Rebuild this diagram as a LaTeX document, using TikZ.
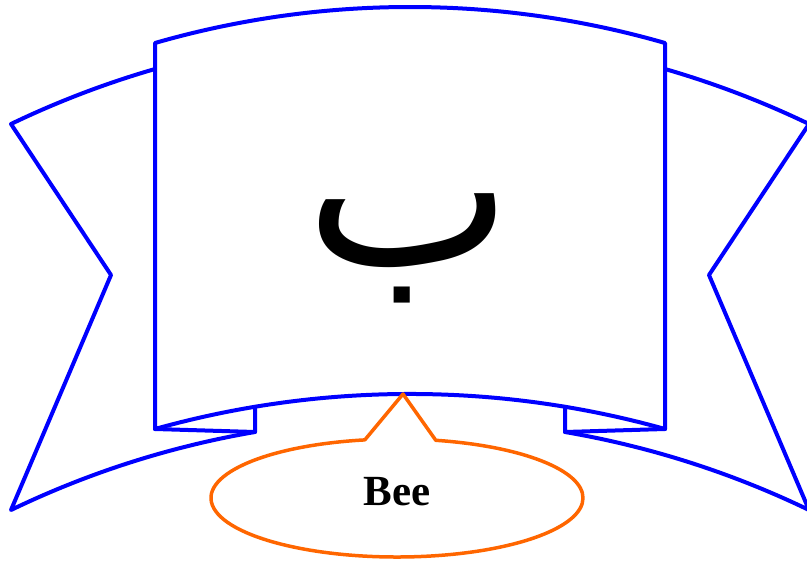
\documentclass[tikz,border=0pt]{standalone}
\usepackage{fontspec}
\usetikzlibrary{shapes.callouts}
\TeXXeTstate=1
\newfontfamily\arabicfont[Script=Arabic]{DejaVu Sans}
\newfontfamily\beefont{Liberation Serif}
\definecolor{ribbonblue}{RGB}{0,0,255}
\definecolor{calloutorange}{RGB}{255,102,0}
\tikzset{
  ribbon/.style={draw=ribbonblue, line width=4.0pt},
  beecallout/.style={ellipse callout, draw=calloutorange, line width=3.5pt, inner sep=0pt,
    minimum width=372pt, minimum height=118pt, callout pointer arc=22},
}

\begin{document}
\begin{tikzpicture}[x=1pt, y=-1pt, line cap=round, line join=round]

  %% ════ left and right tails (behind the panel) ════
  \draw[ribbon] (155,69) .. controls (105.6,83.3) and (57.3,101.7) .. (11,124)
    -- (111,275) -- (11,510) .. controls (88.3,472.7) and (170.4,446.5) .. (255,432);
  \draw[ribbon] (665,69) .. controls (714.4,83.3) and (762.7,101.7) .. (809,124)
    -- (709,275) -- (809,510) .. controls (731.7,472.7) and (649.6,446.5) .. (565,432);

  %% ════ folds ════
  \draw[ribbon] (155,429) -- (255,432) -- (255,406.8);
  \draw[ribbon] (665,429) -- (565,432) -- (565,406.8);

  %% ════ middle panel ════
  \draw[ribbon] (155,429) -- (155,43) .. controls (321.6,-5.0) and (498.4,-5.0) .. (665,43)
    -- (665,429) .. controls (498.2,382.3) and (321.8,382.3) .. (155,429);

  %% ════ letter ════
  \node[font=\arabicfont\fontsize{220}{264}\selectfont] (beh) at (409,248) {\beginR ب\endR};

  %% ════ callout ════
  \coordinate (tip) at (403,394);
  \node[beecallout, callout absolute pointer={(tip)},
        font=\beefont\bfseries\fontsize{43}{52}\selectfont,
        text height=29pt, text depth=15pt] (bee) at (397,498) {Bee};

  % fix the canvas
  \pgfresetboundingbox
  \path[use as bounding box] (0,0) rectangle (807,565);
\end{tikzpicture}
\end{document}
